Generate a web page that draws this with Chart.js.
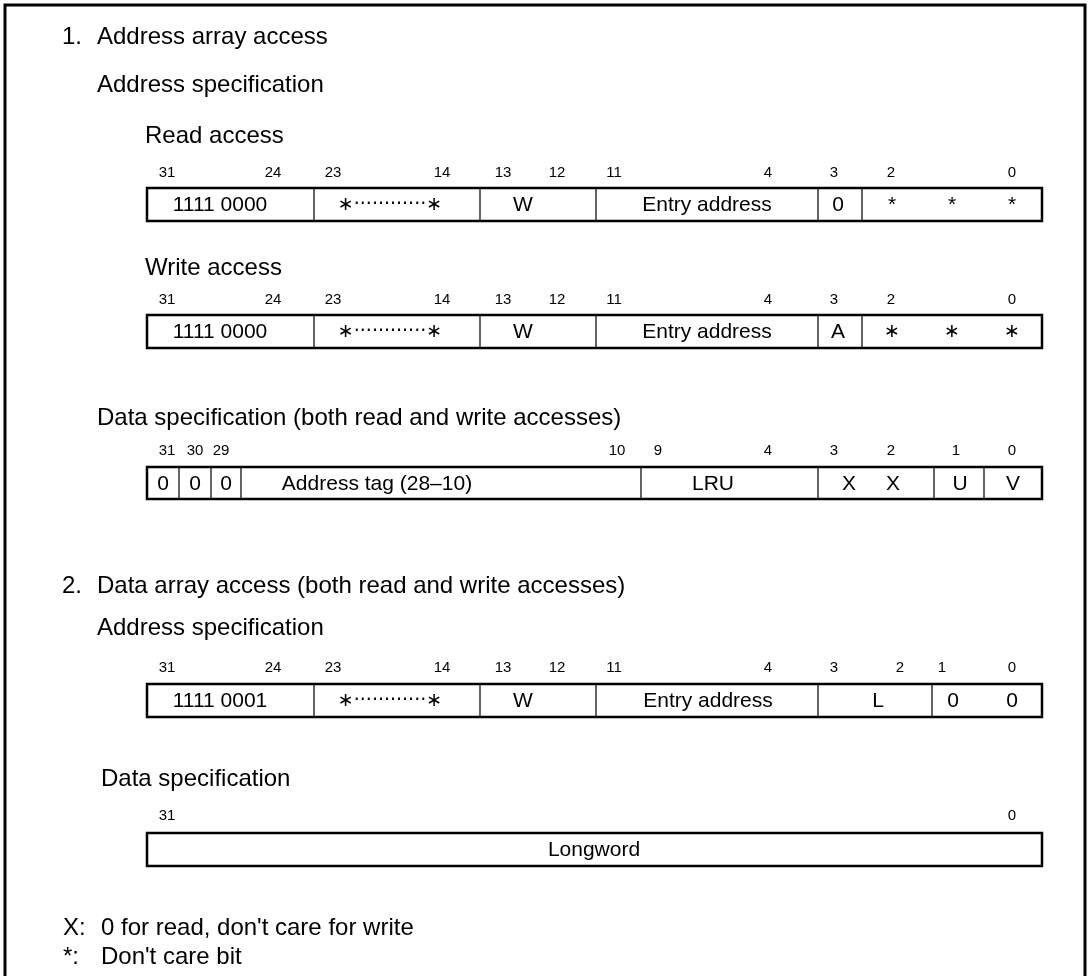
<!DOCTYPE html>
<html>
<head>
<meta charset="utf-8">
<script src="https://cdn.jsdelivr.net/npm/chart.js@4/dist/chart.umd.min.js"></script>
<style>
  html, body { margin: 0; padding: 0; background: #fff; }
  canvas { display: block; }
</style>
</head>
<body>
<canvas id="chart-1" width="1089" height="976"></canvas>
<script>
document.addEventListener('DOMContentLoaded', (event) => {

    // bit numbers and field contents for each register row
    const readBits = ['31', '24', '23', '14', '13', '12', '11', '4', '3', '2', '0'];
    const readFields = ['1111 0000', '\u2217\u00b7\u00b7\u00b7\u00b7\u00b7\u00b7\u00b7\u00b7\u00b7\u00b7\u00b7\u00b7\u2217', 'W', 'Entry address', '0', '*', '*', '*'];

    const writeBits = ['31', '24', '23', '14', '13', '12', '11', '4', '3', '2', '0'];
    const writeFields = ['1111 0000', '\u2217\u00b7\u00b7\u00b7\u00b7\u00b7\u00b7\u00b7\u00b7\u00b7\u00b7\u00b7\u00b7\u2217', 'W', 'Entry address', 'A', '\u2217', '\u2217', '\u2217'];

    const tagBits = ['31', '30', '29', '10', '9', '4', '3', '2', '1', '0'];
    const tagFields = ['0', '0', '0', 'Address tag (28\u201310)', 'LRU', 'X', 'X', 'U', 'V'];

    const dataAddrBits = ['31', '24', '23', '14', '13', '12', '11', '4', '3', '2', '1', '0'];
    const dataAddrFields = ['1111 0001', '\u2217\u00b7\u00b7\u00b7\u00b7\u00b7\u00b7\u00b7\u00b7\u00b7\u00b7\u00b7\u00b7\u2217', 'W', 'Entry address', 'L', '0', '0'];

    const longBits = ['31', '0'];
    const longFields = ['Longword'];

    const notes = [['X:', "0 for read, don't care for write"], ['*:', "Don't care bit"]];

    // layout (in axis units, 1 unit = 1 px)
    const boxLeft = 147, boxRight = 1042;
    const addrBitX = [167, 273, 333, 442, 503, 557, 614, 768, 834, 891, 1012];
    const addrFieldX = [220, 390, 523, 707, 838, 892, 952, 1012];
    const addrDividers = [314, 480, 596, 818, 862];
    const tagBitX = [167, 195, 221, 617, 658, 768, 834, 891, 956, 1012];
    const tagFieldX = [163, 195, 226, 377, 713, 849, 893, 960, 1013];
    const tagDividers = [179, 211, 241, 641, 818, 934, 984];
    const dataBitX = [167, 273, 333, 442, 503, 557, 614, 768, 834, 900, 942, 1012];
    const dataFieldX = [220, 390, 523, 708, 878, 953, 1012];
    const dataDividers = [314, 480, 596, 818, 932];

    const rows = [
        { bits: readBits, bitX: addrBitX, fields: readFields, fieldX: addrFieldX, dividers: addrDividers, bitY: 173, top: 188, bottom: 221 },
        { bits: writeBits, bitX: addrBitX, fields: writeFields, fieldX: addrFieldX, dividers: addrDividers, bitY: 300, top: 315, bottom: 348 },
        { bits: tagBits, bitX: tagBitX, fields: tagFields, fieldX: tagFieldX, dividers: tagDividers, bitY: 451, top: 467, bottom: 499 },
        { bits: dataAddrBits, bitX: dataBitX, fields: dataAddrFields, fieldX: dataFieldX, dividers: dataDividers, bitY: 668, top: 684, bottom: 717 },
        { bits: longBits, bitX: [167, 1012], fields: longFields, fieldX: [594], dividers: [], bitY: 816, top: 833, bottom: 866 }
    ];

    const titles = [
        { text: '1.', x: 62, y: 37 },
        { text: 'Address array access', x: 97, y: 37 },
        { text: 'Address specification', x: 97, y: 85 },
        { text: 'Read access', x: 145, y: 136 },
        { text: 'Write access', x: 145, y: 268 },
        { text: 'Data specification (both read and write accesses)', x: 97, y: 418 },
        { text: '2.', x: 62, y: 586 },
        { text: 'Data array access (both read and write accesses)', x: 97, y: 586 },
        { text: 'Address specification', x: 97, y: 628 },
        { text: 'Data specification', x: 101, y: 779 }
    ];
    const noteY = [928, 957];

    const datasets = [];
    // outer frame
    datasets.push({
        data: [{ x: 5, y: 990 }, { x: 5, y: 5 }, { x: 1085, y: 5 }, { x: 1085, y: 990 }],
        borderWidth: 3
    });
    rows.forEach(r => {
        datasets.push({
            data: [
                { x: boxLeft, y: r.top }, { x: boxRight, y: r.top },
                { x: boxRight, y: r.bottom }, { x: boxLeft, y: r.bottom },
                { x: boxLeft, y: r.top }
            ],
            borderWidth: 2.5
        });
        const seg = [];
        r.dividers.forEach(d => {
            seg.push({ x: d, y: r.top }, { x: d, y: r.bottom }, { x: d, y: null });
        });
        if (seg.length) datasets.push({ data: seg, borderWidth: 1.2 });
    });
    datasets.forEach(ds => {
        ds.showLine = true;
        ds.spanGaps = false;
        ds.pointRadius = 0;
        ds.borderColor = '#000';
        ds.borderJoinStyle = 'miter';
        ds.borderCapStyle = 'square';
        ds.tension = 0;
    });

    const textPlugin = {
        id: 'registerText',
        afterDatasetsDraw(chart) {
            const { ctx } = chart;
            const sx = chart.scales.x, sy = chart.scales.y;
            ctx.save();
            ctx.fillStyle = '#000';
            ctx.textBaseline = 'middle';

            ctx.font = '24px "Liberation Sans", Arial, sans-serif';
            ctx.textAlign = 'left';
            titles.forEach(t => ctx.fillText(t.text, sx.getPixelForValue(t.x), sy.getPixelForValue(t.y)));
            notes.forEach((n, i) => {
                ctx.fillText(n[0], sx.getPixelForValue(63), sy.getPixelForValue(noteY[i]));
                ctx.fillText(n[1], sx.getPixelForValue(101), sy.getPixelForValue(noteY[i]));
            });

            ctx.textAlign = 'center';
            rows.forEach(r => {
                ctx.font = '15px "Liberation Sans", Arial, sans-serif';
                r.bits.forEach((b, i) => ctx.fillText(b, sx.getPixelForValue(r.bitX[i]), sy.getPixelForValue(r.bitY)));
                const midY = sy.getPixelForValue((r.top + r.bottom) / 2) + 1;
                r.fields.forEach((f, i) => {
                    if (f.indexOf('\u00b7') >= 0) {
                        ctx.font = '19px "DejaVu Sans", sans-serif';
                        ctx.fillText(f, sx.getPixelForValue(r.fieldX[i]), midY, 106);
                    } else if (f === '\u2217') {
                        ctx.font = '19px "DejaVu Sans", sans-serif';
                        ctx.fillText(f, sx.getPixelForValue(r.fieldX[i]), midY);
                    } else {
                        ctx.font = '21px "Liberation Sans", Arial, sans-serif';
                        ctx.fillText(f, sx.getPixelForValue(r.fieldX[i]), midY);
                    }
                });
            });
            ctx.restore();
        }
    };

    const ctx = document.getElementById('chart-1').getContext('2d');
    new Chart(ctx, {
        type: 'scatter',
        data: { datasets: datasets },
        options: {
            responsive: false,
            animation: false,
            events: [],
            layout: { padding: 0 },
            plugins: {
                legend: { display: false },
                tooltip: { enabled: false }
            },
            scales: {
                x: { type: 'linear', min: 0, max: 1089, display: false },
                y: { type: 'linear', min: 0, max: 976, reverse: true, display: false }
            }
        },
        plugins: [textPlugin]
    });
});
</script>
</body>
</html>
